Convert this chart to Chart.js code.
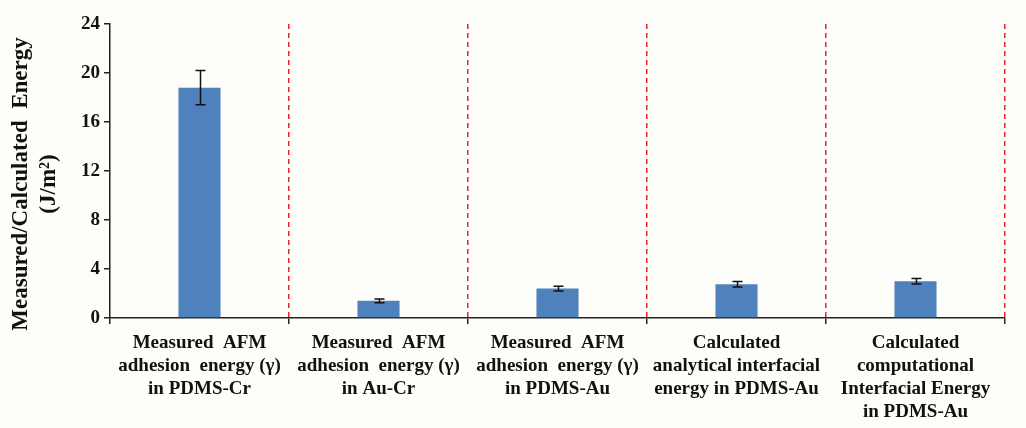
<!DOCTYPE html>
<html>
<head>
<meta charset="utf-8">
<script src="https://cdn.jsdelivr.net/npm/chart.js@4/dist/chart.umd.min.js"></script>
<style>
  html, body { margin: 0; padding: 0; background: #fdfdf9; }
  #wrap { width: 1026px; height: 428px; }
</style>
</head>
<body>
<div id="wrap"><canvas id="c" width="1026" height="428"></canvas></div>
<script>
// Categories (multi-line axis labels)
const categories = [
  ["Measured  AFM", "adhesion  energy (γ)", "in PDMS-Cr"],
  ["Measured  AFM", "adhesion  energy (γ)", "in Au-Cr"],
  ["Measured  AFM", "adhesion  energy (γ)", "in PDMS-Au"],
  ["Calculated", "analytical interfacial", "energy in PDMS-Au"],
  ["Calculated", "computational", "Interfacial Energy", "in PDMS-Au"]
];
// Energy values (J/m²) and their error half-widths
const energy = [18.8, 1.4, 2.4, 2.75, 3.0];
const errors = [1.4, 0.15, 0.2, 0.22, 0.22];
// Y axis tick values
const yTicks = [0, 4, 8, 12, 16, 20, 24];
// Y axis title lines
const yTitle = ['Measured/Calculated  Energy', '(J/m²)'];

const SERIF = '"Liberation Serif", "Times New Roman", serif';

// Draws the error bars on top of each bar
const errorBars = {
  id: 'errorBars',
  afterDatasetsDraw(chart) {
    const meta = chart.getDatasetMeta(0);
    const ys = chart.scales.y;
    const ctx = chart.ctx;
    ctx.save();
    ctx.strokeStyle = '#111';
    ctx.lineWidth = 1.5;
    meta.data.forEach((bar, i) => {
      const top = ys.getPixelForValue(energy[i] + errors[i]);
      const bot = ys.getPixelForValue(energy[i] - errors[i]);
      const x = Math.round(bar.x) + 0.5;
      ctx.beginPath();
      ctx.moveTo(x, top); ctx.lineTo(x, bot);
      ctx.moveTo(x - 5, top); ctx.lineTo(x + 5, top);
      ctx.moveTo(x - 5, bot); ctx.lineTo(x + 5, bot);
      ctx.stroke();
    });
    ctx.restore();
  }
};

// Page background and the rotated two-line y axis title
const decor = {
  id: 'decor',
  beforeDraw(chart) {
    const ctx = chart.ctx;
    ctx.save();
    ctx.fillStyle = '#fdfdf9';
    ctx.fillRect(0, 0, chart.width, chart.height);
    ctx.restore();
  },
  afterDraw(chart) {
    const ctx = chart.ctx;
    const cy = chart.chartArea.top + (chart.chartArea.bottom - chart.chartArea.top) / 2 + 13;
    ctx.save();
    ctx.fillStyle = '#111';
    ctx.font = 'bold 23px ' + SERIF;
    ctx.textAlign = 'center';
    ctx.textBaseline = 'alphabetic';
    [27, 55].forEach((x, i) => {
      ctx.save();
      ctx.translate(x, cy);
      ctx.rotate(-Math.PI / 2);
      ctx.fillText(yTitle[i], 0, 0);
      ctx.restore();
    });
    ctx.restore();
  }
};

new Chart(document.getElementById('c'), {
  type: 'bar',
  data: {
    labels: categories,
    datasets: [{
      data: energy,
      backgroundColor: '#4f81bd',
      borderWidth: 0,
      barPercentage: 0.235,
      categoryPercentage: 1.0
    }]
  },
  options: {
    responsive: false,
    animation: false,
    layout: { padding: { top: 24, right: 21, left: 0, bottom: 0 } },
    plugins: { legend: { display: false }, tooltip: { enabled: false } },
    scales: {
      x: {
        afterFit(s) { s.height = 110; },
        grid: {
          offset: true,
          drawOnChartArea: true,
          color: (c) => c.index === 0 ? 'rgba(0,0,0,0)' : '#e8232e',
          lineWidth: 1.5,
          tickColor: '#222',
          tickLength: 6,
          tickWidth: 1.5
        },
        border: { color: '#222', width: 1.5, dash: [5, 4] },
        ticks: {
          color: '#111',
          padding: 8,
          maxRotation: 0,
          autoSkip: false,
          font: { family: SERIF, size: 19, weight: 'bold', lineHeight: 1.2 }
        }
      },
      y: {
        min: 0,
        max: 24,
        afterFit(s) { s.width = 110; },
        afterBuildTicks(s) { s.ticks = yTicks.map(v => ({ value: v })); },
        grid: {
          drawOnChartArea: false,
          color: '#222',
          tickLength: 6,
          lineWidth: 1.5
        },
        border: { color: '#222', width: 1.5 },
        ticks: {
          color: '#111',
          padding: 4,
          font: { family: SERIF, size: 19, weight: 'bold' }
        },
        title: { display: false }
      }
    }
  },
  plugins: [decor, errorBars]
});
</script>
</body>
</html>
